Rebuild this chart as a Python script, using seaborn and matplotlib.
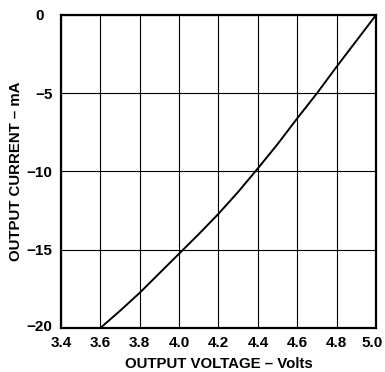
import matplotlib
matplotlib.use("Agg")
import matplotlib.pyplot as plt
import matplotlib.transforms as mtransforms
import seaborn as sns
import pandas as pd

voltage = [3.6, 3.7, 3.8, 3.9, 4.0, 4.1, 4.2, 4.3, 4.4, 4.5, 4.6, 4.7, 4.8, 4.9, 5.0]
current = [-20.0, -18.9, -17.75, -16.5, -15.25, -14.0, -12.7, -11.3, -9.8, -8.25, -6.6, -5.0, -3.3, -1.65, 0.0]
x_ticks = [3.4, 3.6, 3.8, 4.0, 4.2, 4.4, 4.6, 4.8, 5.0]
x_tick_labels = ["3.4", "3.6", "3.8", "4.0", "4.2", "4.4", "4.6", "4.8", "5.0"]
y_ticks = [-20, -15, -10, -5, 0]
y_tick_labels = ["\u221220", "\u221215", "\u221210", "\u22125", "0"]

sns.set_theme(style="white")
plt.rcParams['font.family'] = ['Liberation Sans', 'DejaVu Sans']
plt.rcParams['font.weight'] = 'bold'

df = pd.DataFrame({"V": voltage, "I": current})

fig = plt.figure(figsize=(3.85, 3.72), dpi=100)
ax = fig.add_axes([0.158, 0.118, 0.819, 0.842])
sns.lineplot(data=df, x="V", y="I", ax=ax, color="black", linewidth=1.4)

ax.set_xlim(3.4, 5.0)
ax.set_ylim(-20, 0)
ax.set_xticks(x_ticks)
ax.set_xticklabels(x_tick_labels, fontsize=11, fontweight='bold')
ax.set_yticks(y_ticks)
ax.set_yticklabels(y_tick_labels, fontsize=11, fontweight='bold')
ax.tick_params(axis='x', length=0, pad=5.5, colors='black')
ax.tick_params(axis='y', length=0, pad=6, colors='black')
ax.grid(True, color='black', linewidth=0.8)
for s in ax.spines.values():
    s.set_color('black')
    s.set_linewidth(1.6)
ax.set_xlabel("OUTPUT VOLTAGE \u2013 Volts", fontsize=10.8, fontweight='bold', labelpad=5, color='black')
ax.set_ylabel("OUTPUT CURRENT \u2013 mA", fontsize=10.8, fontweight='bold', labelpad=2.5, color='black')


def shift(label, dx_px, dy_px):
    off = mtransforms.ScaledTranslation(dx_px / 100, dy_px / 100, fig.dpi_scale_trans)
    label.set_transform(label.get_transform() + off)


xt = ax.xaxis.get_major_ticks()
yt = ax.yaxis.get_major_ticks()
shift(xt[-1].label1, -4, 0)
shift(yt[-1].label1, -9, 0)
shift(yt[0].label1, 0, 3)

fig.savefig("out.png", dpi=100)
